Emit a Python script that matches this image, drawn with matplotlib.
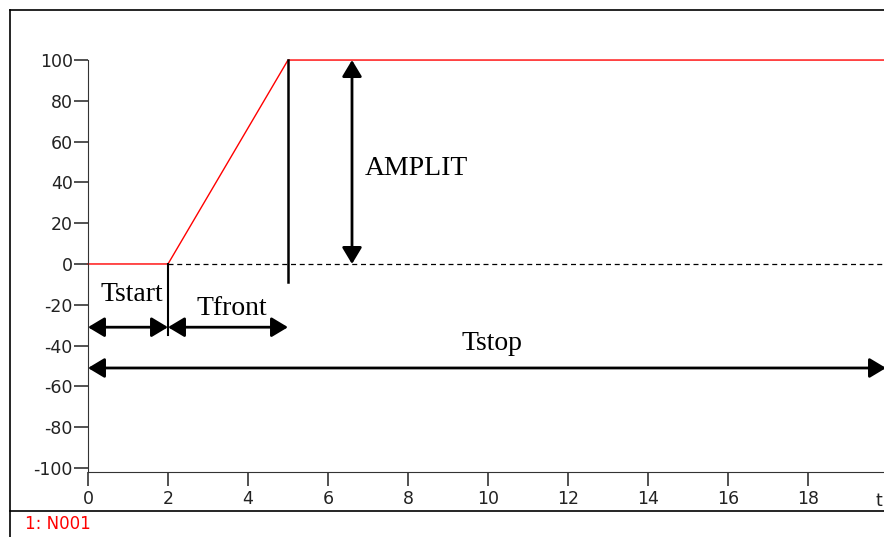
import matplotlib.pyplot as plt
from matplotlib.lines import Line2D

plt.rcParams['axes.unicode_minus'] = False

# Waveform N001 (ramp source)
t_points = [0, 2, 5, 20]
v_points = [0, 0, 100, 100]

t_start = 2
t_front = 5
amplitude = 100
t_stop = 20

x_ticks = [0, 2, 4, 6, 8, 10, 12, 14, 16, 18]
y_ticks = [100, 80, 60, 40, 20, 0, -20, -40, -60, -80, -100]

W, H = 884, 537
fig = plt.figure(figsize=(W / 100, H / 100), dpi=100)

# axes placed in pixel terms
left, right, top, bottom = 88, 884, 58, 472
ax = fig.add_axes([left / W, 1 - bottom / H, (right - left) / W, (bottom - top) / H])
ax.set_xlim(0, 19.9)
ax.set_ylim(-102, 101)

ax.plot(t_points, v_points, color='red', lw=1.0, clip_on=False)
ax.plot([t_start, t_stop], [0, 0], color='black', lw=0.9, ls=(0, (4, 3)))

for s in ['top', 'right']:
    ax.spines[s].set_visible(False)
ax.spines['left'].set_bounds(-102, 100)
ax.spines['left'].set_color('#333333')
ax.spines['bottom'].set_color('#333333')

ax.set_xticks(x_ticks)
ax.set_yticks(y_ticks)
ax.tick_params(axis='x', length=10, width=1.2, color='#333333', labelsize=12.5,
               labelcolor='#222222', pad=3)
ax.tick_params(axis='y', length=10, width=1.2, color='#333333', labelsize=12.5,
               labelcolor='#222222', pad=1)
ax.text(19.78, -112, 't', ha='center', va='top', fontsize=12.5, color='#222222')

# marker lines
ax.plot([t_front, t_front], [amplitude, -9], color='black', lw=1.8)
ax.plot([t_start, t_start], [0, -35], color='black', lw=1.5)

arrow = dict(arrowstyle='<|-|>,head_length=0.5,head_width=0.3', color='black',
             lw=2, mutation_scale=20, shrinkA=0, shrinkB=0)
ax.annotate('', xy=(0, -31), xytext=(t_start, -31), arrowprops=arrow)
ax.annotate('', xy=(t_start, -31), xytext=(t_front, -31), arrowprops=arrow)
ax.annotate('', xy=(0, -51), xytext=(19.95, -51), arrowprops=arrow,
            annotation_clip=False)
ax.annotate('', xy=(6.6, amplitude), xytext=(6.6, 0), arrowprops=arrow)

serif = dict(family='Liberation Serif', fontsize=20, color='black')
ax.text(1.1, -15, 'Tstart', ha='center', va='center', **serif)
ax.text(3.6, -22, 'Tfront', ha='center', va='center', **serif)
ax.text(10.1, -39, 'Tstop', ha='center', va='center', **serif)
ax.text(8.2, 47, 'AMPLIT', ha='center', va='center', **serif)

# outer frame and legend area
frame = dict(color='black', lw=1.2, transform=fig.transFigure)
fig.add_artist(Line2D([10 / W, 1], [1 - 10 / H, 1 - 10 / H], **frame))
fig.add_artist(Line2D([10 / W, 10 / W], [1 - 10 / H, 0], **frame))
fig.add_artist(Line2D([10 / W, 1], [1 - 511 / H, 1 - 511 / H], **frame))
fig.text(25 / W, 1 - 524 / H, '1: N001', color='red', fontsize=12, va='center')

fig.savefig('out.png', dpi=100, facecolor='white')
